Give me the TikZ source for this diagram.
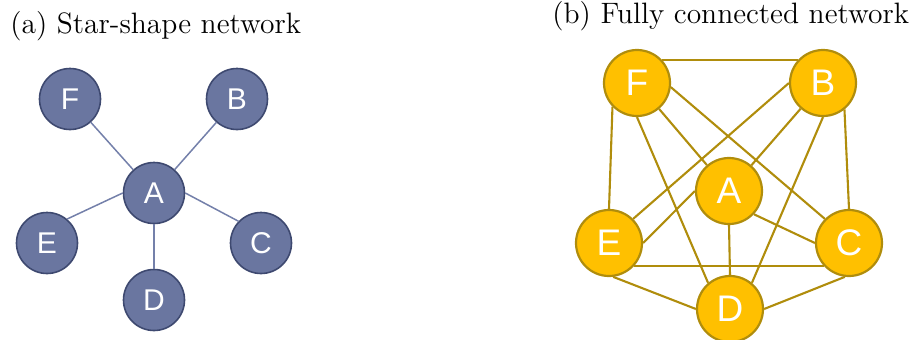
\documentclass[tikz,border=0pt]{standalone}
\usepackage{fontspec}
\newfontfamily\labelfont{Liberation Sans}
\definecolor{slatefill}{HTML}{6A76A0}
\definecolor{slatedraw}{HTML}{3E4970}
\definecolor{slateline}{HTML}{7480AA}
\definecolor{goldfill}{HTML}{FFC000}
\definecolor{golddraw}{HTML}{B08D0C}
\begin{document}
\begin{tikzpicture}[x=0.5pt,y=-0.5pt,
  title/.style={anchor=base west,inner sep=0pt,font=\fontsize{14.75}{17}\selectfont},
  starnode/.style={circle,fill=slatefill,draw=slatedraw,line width=0.8pt,minimum size=30.5pt,inner sep=0pt,text=white,font=\labelfont\fontsize{15}{15}\selectfont},
  fullnode/.style={circle,fill=goldfill,draw=golddraw,line width=1.1pt,minimum size=33pt,inner sep=0pt,text=white,font=\labelfont\fontsize{18.5}{18.5}\selectfont},
  staredge/.style={draw=slateline,line width=0.75pt},
  fulledge/.style={draw=golddraw,line width=1.05pt}]
\useasboundingbox (0,0) rectangle (910,339);
\node[title] (ta) at (10,33) {(a) Star-shape network};
\node[title] (tb) at (552,23) {(b) Fully connected network};
% star network
\node[starnode] (sF) at (70,99) {F};
\node[starnode] (sB) at (237,99) {B};
\node[starnode] (sA) at (154,193) {A};
\node[starnode] (sE) at (47,243) {E};
\node[starnode] (sC) at (261,243) {C};
\node[starnode] (sD) at (154,300) {D};
% fully connected network
\node[fullnode] (fF) at (637,83) {F};
\node[fullnode] (fB) at (823,83) {B};
\node[fullnode] (fA) at (729,191) {A};
\node[fullnode] (fE) at (609,243) {E};
\node[fullnode] (fC) at (849,243) {C};
\node[fullnode] (fD) at (730,309) {D};
% star edges
\draw[staredge] (sF) -- (sA);
\draw[staredge] (sB) -- (sA);
\draw[staredge] (sE.50) -- (sA.180);
\draw[staredge] (sC.136) -- (sA.0);
\draw[staredge] (sA.-90) -- (sD.90);
% full edges
\draw[fulledge] (fF.43) -- (fB.137);
\draw[fulledge] (fF.224) -- (fE.90);
\draw[fulledge] (fF) -- (fA);
\draw[fulledge] (fF.-7) -- (fC.135);
\draw[fulledge] (fF.-90) -- (fD.130);
\draw[fulledge] (fB.180) -- (fE.45);
\draw[fulledge] (fB) -- (fA);
\draw[fulledge] (fB.-90) -- (fD.50);
\draw[fulledge] (fB.-51) -- (fC.90);
\draw[fulledge] (fA.180) -- (fE.0);
\draw[fulledge] (fA.-43) -- (fC.180);
\draw[fulledge] (fA.-90) -- (fD.90);
\draw[fulledge] (fE.-43) -- (fC.223);
\draw[fulledge] (fE.-83) -- (fD.180);
\draw[fulledge] (fC.-97) -- (fD.0);
\end{tikzpicture}
\end{document}
